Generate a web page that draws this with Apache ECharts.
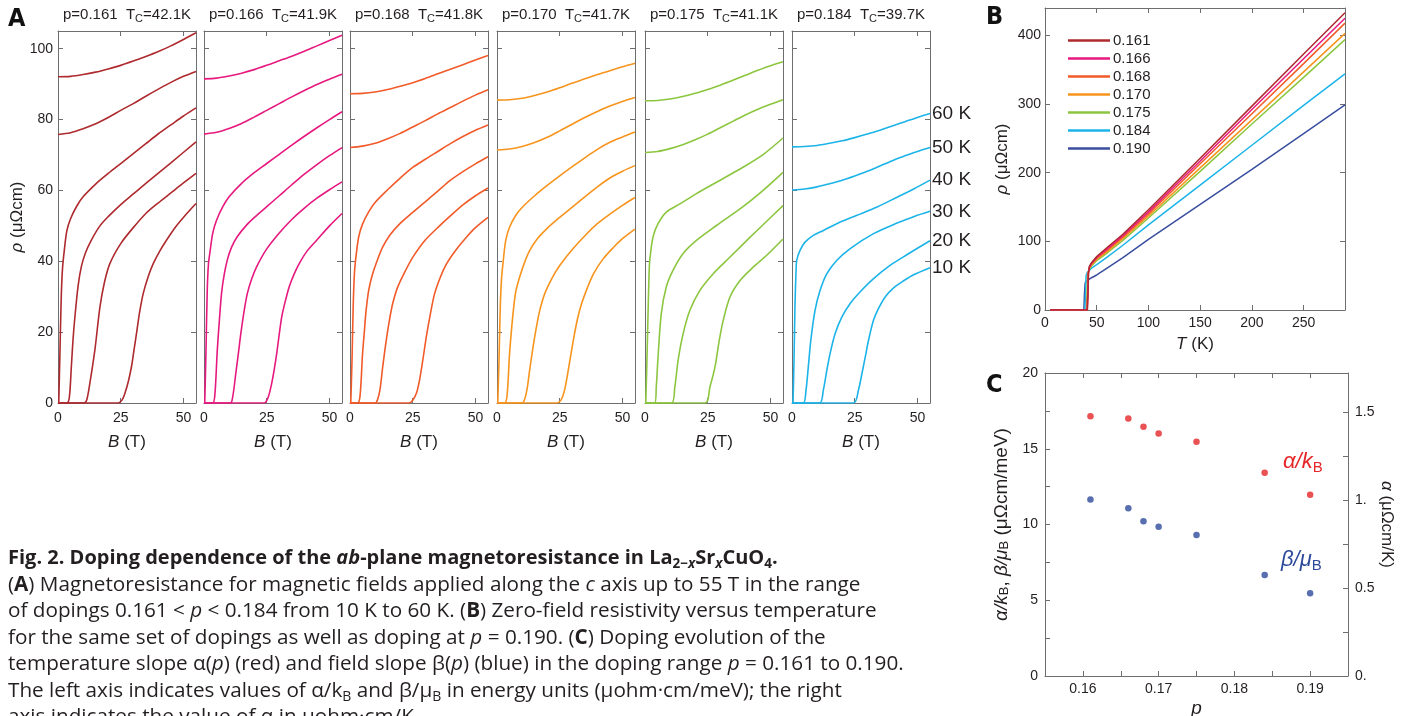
<!DOCTYPE html>
<html>
<head>
<meta charset="utf-8" />
<script src="https://cdn.jsdelivr.net/npm/echarts@6/dist/echarts.min.js"></script>
<title></title>
<style>
  html, body { margin: 0; padding: 0; background: #fff; }
  #main { width: 1407px; height: 716px; }
</style>
</head>
<body>
<div id="main"></div>
<script>
// ---------- panel A: rho(B), each curve is [B (T), rho (uOhm cm)], order 60 K -> 10 K
var temps = ['60 K', '50 K', '40 K', '30 K', '20 K', '10 K'];
var dopingsA = ['0.161', '0.166', '0.168', '0.170', '0.175', '0.184'];
var tcA = ['42.1K', '41.9K', '41.8K', '41.7K', '41.1K', '39.7K'];

var mr161 = [
  [[0,92.1],[5,92.2],[10,92.7],[15,93.4],[20,94.3],[25,95.3],[30,96.5],[35,97.8],[40,99.2],[45,100.8],[50,102.6],[55,104.5]],
  [[0,75.8],[5,76.3],[10,77.4],[15,78.8],[20,80.6],[25,82.6],[30,84.5],[35,86.6],[40,88.6],[45,90.5],[50,92.2],[55,93.6]],
  [[0.3,0],[0.8,15],[1.3,30],[1.8,38],[2.5,43],[3.5,48.5],[5,52],[7.5,55.6],[10,58.2],[15,61.8],[20,64.8],[25,67.6],[30,70.4],[35,73.2],[40,76],[45,78.5],[50,81],[55,83.3]],
  [[0,0],[3.5,0],[4.5,1.5],[5.3,10],[6,18],[6.7,24],[8,33],[9.3,38.5],[11,42.5],[13.3,46],[16.7,50],[20,52.6],[25,56],[30,59],[36.7,63],[45,67.8],[55,73.7]],
  [[0,0],[10.5,0],[11.5,1],[12.7,5.6],[14.7,15],[16.7,27],[18.5,34],[20.7,39.4],[25,45],[30,49.5],[35,53.5],[40,56.5],[45,59.3],[50,62.1],[55,64.8]],
  [[0,0],[24,0],[25.5,0.8],[26.7,2.8],[28,6],[29.3,10.3],[30.3,15],[31.3,19.7],[32.5,25.5],[34,31],[36,35.8],[38,39.4],[40.5,42.8],[43.3,46],[47,49.8],[51,53.2],[55,56.3]]
];
var mr166 = [
  [[0,91.5],[5,91.7],[10,92.3],[15,93.1],[20,94.1],[25,95.3],[30,96.6],[35,97.9],[40,99.3],[45,100.8],[50,102.3],[55,103.8]],
  [[0,75.9],[5,76.4],[10,77.5],[15,78.9],[20,80.7],[25,82.6],[30,84.5],[35,86.4],[40,88.2],[45,89.9],[50,91.4],[55,92.8]],
  [[0.3,0],[0.8,15],[1.3,32],[1.8,39.4],[2.5,43.2],[3.5,48],[5,51.6],[7.5,55.4],[10,58.2],[15,62],[20,65],[25,67.6],[30,70.2],[35,72.8],[40,75.3],[45,77.7],[50,80],[55,82.2]],
  [[0,0],[3.5,0],[4.4,3],[5.3,15],[6.2,24],[7,31],[8,36],[9.3,40.4],[11,44],[13.3,47],[16.7,50],[20,52.3],[25,55.4],[30,58.5],[35,61.6],[40,64.6],[45,67.3],[50,69.8],[55,72.1]],
  [[0,0],[10.5,0],[11.5,2],[12.7,8.5],[13.7,14],[14.7,19.7],[16,26],[17.3,31],[19,35],[21,38.5],[25,43.5],[30,48],[35,51.8],[40,55],[45,57.8],[50,60.2],[55,62.4]],
  [[0,0],[24,0],[25.5,1.5],[27,5.6],[28,9.5],[29,14.1],[30,19.5],[31,24.4],[32.5,29],[34,32.9],[36,36.5],[38,39.4],[41,42.8],[45,46],[50,50],[55,53.5]]
];
var mr168 = [
  [[0,87.3],[5,87.4],[10,87.8],[15,88.5],[20,89.4],[25,90.4],[30,91.6],[35,92.9],[40,94.2],[45,95.5],[50,96.8],[55,98.1]],
  [[0,72.1],[5,72.5],[10,73.3],[15,74.6],[20,76.1],[25,77.9],[30,79.7],[35,81.6],[40,83.4],[45,85.2],[50,86.9],[55,88.4]],
  [[0.3,0],[0.8,12],[1.3,28],[1.8,37],[2.5,42],[3.5,47],[5,50.5],[7.5,54],[10,56.6],[15,60.2],[20,63.5],[25,66.5],[30,68.8],[35,71],[40,73.2],[45,75.2],[50,77],[55,78.5]],
  [[0,0],[3,0],[4,2],[5,13.9],[5.7,20],[6.4,26],[7.5,32],[9,36.4],[11,40.5],[13,44],[16,47.5],[20,50.7],[25,53.8],[30,56.8],[35,59.8],[39.7,62.7],[45,65.3],[50,67.5],[55,69.5]],
  [[0,0],[10,0],[11,1],[12,4],[13,10],[14.3,17],[15.7,23.3],[17,28],[19,32.7],[22,37.2],[25,41.1],[30,46],[35.7,50],[40,52.8],[45,55.9],[50,58.5],[55,60.7]],
  [[0,0],[23.5,0],[25,0.8],[26.5,2.8],[27.7,6.4],[29,12],[30.4,18.6],[32,25],[33.7,30.8],[36,35.5],[38.4,39.2],[42,43],[46.4,46.8],[50,49.5],[55,52.4]]
];
var mr170 = [
  [[0,85.5],[5,85.6],[10,86],[15,86.8],[20,87.8],[25,89],[30,90.3],[35,91.5],[40,92.7],[45,93.8],[50,94.9],[55,95.9]],
  [[0,71.4],[5,71.7],[10,72.4],[15,73.5],[20,75],[25,76.8],[30,78.7],[35,80.6],[40,82.3],[45,83.8],[50,85.1],[55,86.2]],
  [[0.3,0],[0.8,12],[1.3,27],[1.8,35],[2.5,40.2],[3.5,46],[5,49.6],[7.5,53],[10,55.2],[15,58.5],[20,61.4],[25,64.1],[30,66.7],[35,69.2],[40,71.6],[45,73.6],[50,75.1],[55,76.5]],
  [[0,0],[3,0],[4,2],[5,13.9],[5.7,20],[6.5,26],[7.5,31.5],[9,35.5],[11,39.7],[13,43],[16,46.3],[20,49.3],[25,52.4],[30,55.3],[35,58.2],[40,61],[45,63.5],[50,65.4],[55,67]],
  [[0,0],[10,0],[11,1],[12,4],[13,9.2],[14.3,15.5],[15.7,21.4],[17,26],[19,30.8],[22,35.3],[25,38.8],[30,43.3],[35.7,47.7],[40,50.6],[45,53.3],[50,55.8],[55,58]],
  [[0,0],[24,0],[25.5,0.8],[26.7,3],[27.7,6.4],[29,11.8],[30.4,17.6],[32,23.5],[33.7,28],[36,32.5],[38.4,36.4],[42,40.4],[46.4,43.9],[50,46.4],[55,49.1]]
];
var mr175 = [
  [[0,85.3],[5,85.4],[10,85.8],[15,86.5],[20,87.4],[25,88.5],[30,89.7],[35,91.1],[40,92.5],[45,93.9],[50,95.2],[55,96.3]],
  [[0,70.7],[5,71],[10,71.8],[15,72.9],[20,74.3],[25,75.9],[30,77.7],[35,79.5],[40,81.3],[45,82.9],[50,84.3],[55,85.6]],
  [[0.3,0],[0.7,10],[1.2,25],[1.6,36],[1.9,40.3],[3.2,46.9],[5.2,50.6],[8.5,53.9],[13.9,56.2],[20.5,59.1],[28.5,62.3],[39.2,66.6],[47.2,70.2],[55,74.8]],
  [[0,0],[3.9,0],[4.5,4.6],[5.2,13],[6.5,25.3],[8.5,32.8],[11.2,37.5],[15.2,42.2],[20.5,45.9],[28.5,50.1],[39.2,55.5],[47.2,60.1],[55,65.1]],
  [[0,0],[10.5,0],[11.9,4.6],[13.2,12.1],[15.2,19.6],[17.9,26.2],[21.9,31.8],[27.2,36.5],[33.9,41.2],[41.9,46.8],[48.5,51.3],[55,55.7]],
  [[0,0],[23.9,0],[25.9,4.6],[27.9,10.2],[29.6,17.7],[31.2,23.4],[33.9,30],[37.9,34.6],[43.2,38.4],[48.5,41.7],[55,46.3]]
];
var mr184 = [
  [[0,72.3],[5,72.4],[10,72.7],[15,73.3],[20,74],[25,74.9],[30,75.9],[35,77],[40,78.2],[45,79.4],[50,80.6],[55,81.7]],
  [[0,60.1],[5,60.4],[10,61],[15,61.9],[20,62.9],[25,64.1],[30,65.4],[35,66.9],[40,68.4],[45,69.8],[50,71],[55,72.1]],
  [[0.4,0],[0.8,12],[1.2,28],[1.6,37],[1.9,40.3],[3.2,43.1],[5.2,45.4],[8.5,47.3],[12.5,48.7],[19.2,51.1],[25.9,53],[33.9,55.3],[41.9,58.1],[48.5,60.4],[55,62.9]],
  [[0,0],[4.5,0],[5.6,3.7],[6.5,10.2],[7.5,17.7],[9.2,26.2],[11.2,31.8],[13.9,36.5],[17.9,40.3],[23.2,43.6],[32.5,47.8],[41.9,50.8],[48.5,52.6],[55,54.1]],
  [[0,0],[11,0],[12.5,3.7],[13.9,9.3],[15.2,14],[17.2,19.6],[19.9,24.3],[23.2,28.1],[27.2,31.4],[32.5,35.1],[39.2,38.9],[45.9,41.9],[55,45.8]],
  [[0,0],[24.5,0],[26.5,3.7],[27.9,8.4],[29.2,13],[30.5,17.7],[32.5,23.4],[34.5,26.7],[37.2,30],[40.5,32.5],[44.5,34.5],[48.5,36.2],[55,38.2]]
];
var curvesA = [mr161, mr166, mr168, mr170, mr175, mr184];

// ---------- panel B: zero-field rho(T), [T (K), rho (uOhm cm)]
var dopingsB = ['0.161', '0.166', '0.168', '0.170', '0.175', '0.184', '0.190'];
var rhoT161 = [[5,0],[41,0],[41.6,25],[42.1,55],[43,64],[45,69],[50,78],[60,91],[75,110],[100,146],[150,221],[200,297],[250,373],[290,433]];
var rhoT166 = [[5,0],[40.8,0],[41.4,25],[41.9,54],[43,63],[45,68],[50,77],[60,89],[75,108],[100,143],[150,217],[200,292],[250,366],[290,425]];
var rhoT168 = [[5,0],[40.7,0],[41.3,25],[41.8,53],[43,62],[45,67],[50,75],[60,87],[75,106],[100,140],[150,213],[200,286],[250,359],[290,418]];
var rhoT170 = [[5,0],[40.6,0],[41.2,25],[41.7,52],[43,61],[45,66],[50,74],[60,85],[75,104],[100,137],[150,207],[200,277],[250,347],[290,403]];
var rhoT175 = [[5,0],[40,0],[40.6,25],[41.1,51],[42.5,59],[45,64],[50,72],[60,83],[75,101],[100,134],[150,202],[200,271],[250,339],[290,394]];
var rhoT184 = [[5,0],[38.6,0],[39.2,28],[39.7,50],[41,55],[45,61],[50,66],[60,77],[75,94],[100,124],[150,182],[200,240],[250,298],[290,344]];
var rhoT190 = [[5,0],[37.6,0],[38.2,25],[38.8,39],[40,42],[45,47],[50,51],[60,61],[75,76],[100,103],[150,154],[200,205],[250,257],[290,299]];
var curvesB = [rhoT161, rhoT166, rhoT168, rhoT170, rhoT175, rhoT184, rhoT190];

// ---------- panel C: slopes vs doping
var pC = [0.161, 0.166, 0.168, 0.170, 0.175, 0.184, 0.190];
var alphaKb = [17.14, 17.0, 16.45, 16.0, 15.46, 13.41, 11.96];
var betaMub = [11.65, 11.08, 10.22, 9.85, 9.30, 6.67, 5.46];

var colors = ['#ae2a2e', '#e6197f', '#f15a29', '#f7941d', '#8cc63f', '#1cb4e8', '#3a4e9f'];
var FONT = "'Liberation Sans', Arial, sans-serif";
var TXT = '#231f20';
var AX = '#6d6e70';

var chart = echarts.init(document.getElementById('main'));
var grids = [], xAxes = [], yAxes = [], series = [], graphics = [];

function mkAxis(gi, pos, s, showLabel, withName) {
  var ns = s.nameSize || 17;
  return {
    type: 'value', gridIndex: gi, position: pos,
    min: s.min, max: s.max, interval: s.interval,
    axisLine: { show: true, onZero: false, lineStyle: { color: AX, width: 1 } },
    axisTick: { show: true, inside: true, length: 5, lineStyle: { color: AX, width: 1 } },
    axisLabel: { show: showLabel, formatter: s.fmt, fontSize: s.labelSize || 14, color: TXT, fontFamily: FONT, margin: s.margin || 5, hideOverlap: false },
    splitLine: { show: false },
    name: withName ? s.name : '',
    nameLocation: 'middle', nameGap: s.nameGap, nameRotate: s.nameRotate,
    nameTextStyle: {
      fontSize: ns, color: TXT, fontFamily: FONT,
      rich: {
        i: { fontSize: ns, fontStyle: 'italic', color: TXT, fontFamily: FONT },
        s: { fontSize: Math.round(ns * 0.7), color: TXT, fontFamily: FONT, verticalAlign: 'bottom', lineHeight: Math.round(ns * 0.75) },
        n: { fontSize: ns, color: TXT, fontFamily: FONT }
      }
    }
  };
}

// frame of four axes round a grid; returns the axis indices
function addFrame(gi, xs, ys, ys2, showYLabel) {
  var xi = xAxes.length, yi = yAxes.length;
  xAxes.push(mkAxis(gi, 'bottom', xs, true, true));
  xAxes.push(mkAxis(gi, 'top', xs, false, false));
  yAxes.push(mkAxis(gi, 'left', ys, showYLabel, showYLabel));
  yAxes.push(mkAxis(gi, 'right', ys2 || ys, !!ys2, !!ys2));
  return { x: xi, y: yi, y2: yi + 1 };
}

// ---------- panel A
var gridLefts = [58, 204, 350, 497, 645, 792];
var xA = { min: 0, max: 55, interval: 25, name: '{i|B} (T)', nameGap: 31, margin: 8,
  fmt: function (v) { return v % 25 === 0 ? v : ''; } };
var yA = { min: 0, max: 105, interval: 20, name: '{i|ρ} (μΩcm)', nameGap: 23,
  fmt: function (v) { return v % 20 === 0 ? v : ''; } };

for (var i = 0; i < 6; i++) {
  grids.push({ left: gridLefts[i], top: 31, width: 138, height: 372, outerBoundsMode: 'none' });
  var ax = addFrame(i, xA, yA, null, i === 0);
  for (var j = 0; j < 6; j++) {
    var s = {
      type: 'line', name: 'A ' + dopingsA[i] + ' ' + temps[j],
      xAxisIndex: ax.x, yAxisIndex: ax.y, data: curvesA[i][j],
      showSymbol: false, smooth: 0.3, silent: true,
      lineStyle: { color: colors[i], width: 1.6 }, itemStyle: { color: colors[i] }
    };
    if (i === 5) {
      s.endLabel = { show: true, formatter: temps[j], fontSize: 19, color: TXT, fontFamily: FONT, distance: 2 };
    }
    series.push(s);
  }
  graphics.push({
    type: 'text', x: gridLefts[i] + 69, y: 15,
    style: {
      text: '{n|p=' + dopingsA[i] + '  T}{s|C}{n|=' + tcA[i] + '}',
      align: 'center', verticalAlign: 'middle', fill: TXT, fontFamily: FONT, fontSize: 15,
      rich: {
        n: { fontSize: 15, fill: TXT, fontFamily: FONT, lineHeight: 19 },
        s: { fontSize: 11, fill: TXT, fontFamily: FONT, lineHeight: 12, verticalAlign: 'bottom' }
      }
    }
  });
}

// ---------- panel B
grids.push({ left: 1045, top: 8, width: 300, height: 302, outerBoundsMode: 'none' });
var axB = addFrame(6,
  { min: 0, max: 290, interval: 50, name: '{i|T} (K)', nameGap: 26, nameSize: 17, margin: 6,
    fmt: function (v) { return v % 50 === 0 ? v : ''; } },
  { min: 0, max: 440, interval: 100, name: '{i|ρ} (μΩcm)', nameGap: 34, nameSize: 17, margin: 4,
    fmt: function (v) { return v % 100 === 0 ? v : ''; } },
  null, true);
for (var k = dopingsB.length - 1; k >= 0; k--) {
  series.push({
    type: 'line', name: dopingsB[k], xAxisIndex: axB.x, yAxisIndex: axB.y,
    data: curvesB[k], showSymbol: false, smooth: false, silent: true,
    lineStyle: { color: colors[k], width: 1.5 }, itemStyle: { color: colors[k] }
  });
}

// ---------- panel C
grids.push({ left: 1045, top: 373, width: 303, height: 303, outerBoundsMode: 'none' });
var kB = 0.086173; // meV/K, right axis = left axis * kB
var axC = addFrame(7,
  { min: 0.155, max: 0.195, interval: 0.005, name: '{i|p}', nameGap: 23, nameSize: 19, margin: 6,
    fmt: function (v) { var r = Math.round(v * 100); return Math.abs(v * 100 - r) < 1e-6 ? (r / 100).toFixed(2) : ''; } },
  { min: 0, max: 20, interval: 2.5, name: '{i|α/k}{s|B}{n|, }{i|β/μ}{s|B}{n| (μΩcm/meV)}', nameGap: 34, nameSize: 19, margin: 7,
    fmt: function (v) { return v % 5 === 0 ? v : ''; } },
  { min: 0, max: 20 * kB, interval: 0.25, name: '{i|α} (μΩcm/K)', nameGap: 19, nameSize: 17, nameRotate: -90, margin: 7,
    fmt: function (v) {
      var r = Math.round(v * 2);
      if (Math.abs(v * 2 - r) > 1e-6) return '';
      return r % 2 === 0 ? (r / 2) + '.' : String(r / 2);
    } },
  true);
series.push({
  type: 'scatter', name: 'alpha/kB', xAxisIndex: axC.x, yAxisIndex: axC.y,
  data: pC.map(function (p, n) { return [p, alphaKb[n]]; }),
  symbolSize: 6.5, itemStyle: { color: '#e52528' }, silent: true
});
series.push({
  type: 'scatter', name: 'beta/muB', xAxisIndex: axC.x, yAxisIndex: axC.y,
  data: pC.map(function (p, n) { return [p, betaMub[n]]; }),
  symbolSize: 6.5, itemStyle: { color: '#2e4b9b' }, silent: true
});

function subLabel(x, y, main, color) {
  return {
    type: 'text', x: x, y: y,
    style: {
      text: '{a|' + main + '}{s|B}', verticalAlign: 'middle', fill: color,
      rich: {
        a: { fontSize: 22, fontStyle: 'italic', fill: color, fontFamily: FONT, lineHeight: 26 },
        s: { fontSize: 15, fill: color, fontFamily: FONT, lineHeight: 16, verticalAlign: 'bottom' }
      }
    }
  };
}
graphics.push(subLabel(1283, 462, 'α/k', '#e52528'));
graphics.push(subLabel(1281, 560, 'β/μ', '#2e4b9b'));

// panel letters
var LETTER = "'Liberation Sans Narrow', 'DejaVu Sans Condensed', sans-serif";
[['A', 8, 19], ['B', 986, 17], ['C', 986, 385]].forEach(function (l) {
  graphics.push({ type: 'text', x: l[1], y: l[2],
    style: { text: l[0], fontSize: 25, fontWeight: 'bold', fontFamily: LETTER, fill: '#111', verticalAlign: 'middle' } });
});

// ---------- caption
var CAP = "'Open Sans', 'Noto Sans', sans-serif";
var capLines = [
  '{b|Fig. 2. Doping dependence of the }{bi|ab}{b|-plane magnetoresistance in La}{bs|2−}{bsi|x}{b|Sr}{bsi|x}{b|CuO}{bs|4}{b|.}',
  '{n|(}{b2|A}{n|) Magnetoresistance for magnetic fields applied along the }{i|c}{n| axis up to 55 T in the range}',
  '{n|of dopings 0.161 < }{i|p}{n| < 0.184 from 10 K to 60 K. (}{b2|B}{n|) Zero-field resistivity versus temperature}',
  '{n|for the same set of dopings as well as doping at }{i|p}{n| = 0.190. (}{b2|C}{n|) Doping evolution of the}',
  '{n|temperature slope α(}{i|p}{n|) (red) and field slope β(}{i|p}{n|) (blue) in the doping range }{i|p}{n| = 0.161 to 0.190.}',
  '{n|The left axis indicates values of α/k}{s|B}{n| and β/μ}{s|B}{n| in energy units (μohm·cm/meV); the right}',
  '{n|axis indicates the value of α in μohm·cm/K.}'
];
var capY = [558, 585, 611.5, 638, 664.5, 691, 717];
var capRich = {
  n: { fontSize: 20.7, fill: TXT, fontFamily: CAP, lineHeight: 26 },
  i: { fontSize: 20.7, fill: TXT, fontFamily: CAP, fontStyle: 'italic', lineHeight: 26 },
  b2: { fontSize: 20.7, fill: TXT, fontFamily: CAP, fontWeight: 'bold', lineHeight: 26 },
  b: { fontSize: 20, fill: TXT, fontFamily: CAP, fontWeight: 'bold', lineHeight: 26 },
  bi: { fontSize: 20, fill: TXT, fontFamily: CAP, fontWeight: 'bold', fontStyle: 'italic', lineHeight: 26 },
  s: { fontSize: 14, fill: TXT, fontFamily: CAP, lineHeight: 16, verticalAlign: 'bottom' },
  bs: { fontSize: 13.5, fill: TXT, fontFamily: CAP, fontWeight: 'bold', lineHeight: 16, verticalAlign: 'bottom' },
  bsi: { fontSize: 13.5, fill: TXT, fontFamily: CAP, fontWeight: 'bold', fontStyle: 'italic', lineHeight: 16, verticalAlign: 'bottom' }
};
capLines.forEach(function (t, n) {
  graphics.push({ type: 'text', x: 8, y: capY[n],
    style: { text: t, verticalAlign: 'middle', fill: TXT, fontFamily: CAP, fontSize: 20.7, rich: capRich } });
});

var option = {
  backgroundColor: '#fff',
  animation: false,
  grid: grids,
  xAxis: xAxes,
  yAxis: yAxes,
  legend: {
    data: dopingsB, orient: 'vertical', left: 1063, top: 28,
    icon: 'rect', itemWidth: 42, itemHeight: 2.5, itemGap: 3, selectedMode: false,
    textStyle: { fontSize: 15, color: TXT, fontFamily: FONT, lineHeight: 14, padding: [0, 0, 0, -2] }
  },
  graphic: graphics,
  series: series
};
chart.setOption(option);
</script>
</body>
</html>
